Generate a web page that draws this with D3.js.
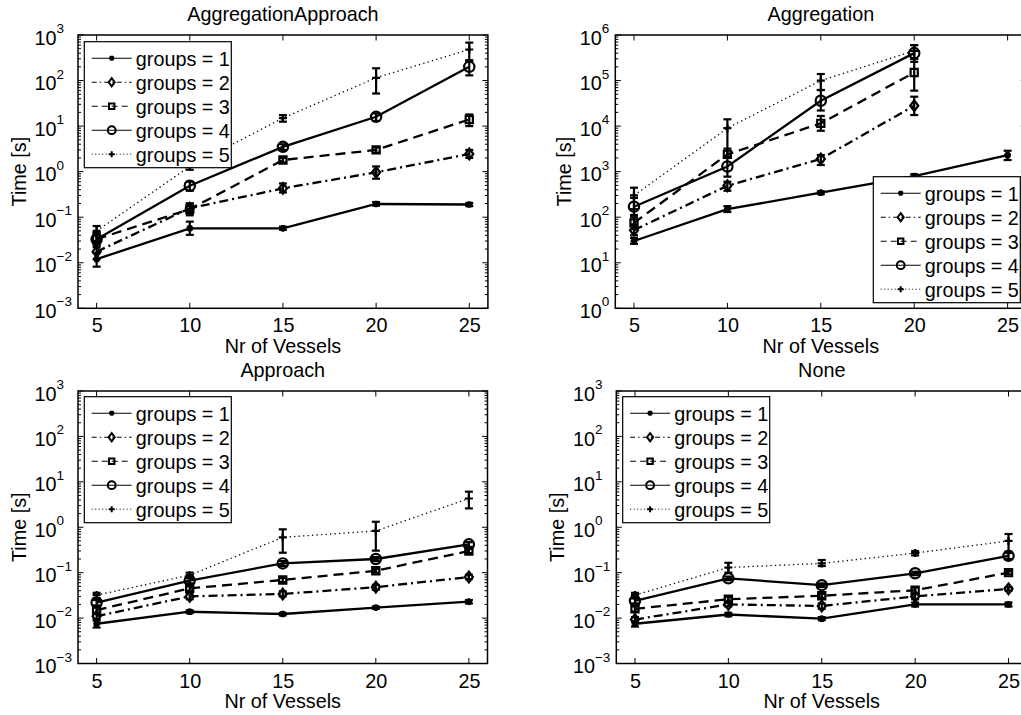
<!DOCTYPE html>
<html><head><meta charset="utf-8">
<script src="https://cdn.jsdelivr.net/npm/d3@7"></script>
<style>
html,body{margin:0;padding:0;background:#fff;}
svg{display:block;font-family:"Liberation Sans",Arial,Helvetica,sans-serif;}
</style></head>
<body>
<svg id="chart" width="1021" height="715"></svg>
<script>
// ---------------- data ----------------
const xValues = [5, 10, 15, 20, 25];
const xTicks = [5, 10, 15, 20, 25];
const seriesNames = ["groups = 1", "groups = 2", "groups = 3", "groups = 4", "groups = 5"];
const panelTitles = ["AggregationApproach", "Aggregation", "Approach", "None"];
const xLabel = "Nr of Vessels";
const yLabel = "Time [s]";

// AggregationApproach
const aaMean = [
  [0.012, 0.057, 0.057, 0.195, 0.19],
  [0.0175, 0.157, 0.43, 0.97, 2.44],
  [0.033, 0.15, 1.8, 3.0, 14],
  [0.033, 0.49, 3.5, 16, 200],
  [0.05, 1.3, 15, 115, 480]
];
const aaLow = [
  [0.0082, 0.041, 0.053, 0.18, 0.175],
  [0.012, 0.12, 0.35, 0.7, 2.0],
  [0.025, 0.11, 1.6, 2.6, 10],
  [0.022, 0.38, 3.0, 13, 130],
  [0.03, 1.1, 12.5, 52, 280]
];
const aaHigh = [
  [0.0164, 0.08, 0.062, 0.215, 0.205],
  [0.025, 0.2, 0.55, 1.3, 3.0],
  [0.045, 0.2, 2.0, 3.4, 18],
  [0.045, 0.6, 4.0, 19, 270],
  [0.064, 1.5, 17.4, 186, 680]
];
// Aggregation
const agMean = [
  [30, 150, 345, 800, 2300],
  [52, 490, 1900, 28000, null],
  [75, 2400, 11500, 150000, null],
  [170, 1300, 36000, 400000, null],
  [300, 9000, 100000, 450000, null]
];
const agLow = [
  [26, 130, 320, 720, 1800],
  [40, 380, 1400, 17500, null],
  [55, 2000, 7900, 60000, null],
  [112, 777, 22000, 258000, null],
  [150, 2130, 62000, 300000, null]
];
const agHigh = [
  [35, 175, 370, 880, 2880],
  [70, 600, 2320, 44200, null],
  [100, 3200, 16700, 300000, null],
  [265, 2130, 62000, 600000, null],
  [444, 14100, 139000, 600000, null]
];
// Approach
const apMean = [
  [0.0075, 0.0138, 0.0123, 0.017, 0.023],
  [0.011, 0.03, 0.034, 0.048, 0.08],
  [0.015, 0.045, 0.069, 0.11, 0.3],
  [0.022, 0.067, 0.16, 0.2, 0.42],
  [0.032, 0.088, 0.6, 0.83, 4.3]
];
const apLow = [
  [0.0062, 0.0128, 0.0115, 0.016, 0.021],
  [0.0095, 0.026, 0.03, 0.042, 0.072],
  [0.013, 0.04, 0.062, 0.1, 0.27],
  [0.019, 0.058, 0.14, 0.18, 0.37],
  [0.027, 0.075, 0.275, 0.305, 2.6]
];
const apHigh = [
  [0.0088, 0.0148, 0.013, 0.018, 0.025],
  [0.0125, 0.035, 0.039, 0.054, 0.09],
  [0.017, 0.05, 0.076, 0.12, 0.34],
  [0.025, 0.078, 0.18, 0.22, 0.47],
  [0.036, 0.1, 0.9, 1.32, 6.07]
];
// None
const noMean = [
  [0.0075, 0.012, 0.0097, 0.02, 0.02],
  [0.0093, 0.02, 0.0185, 0.03, 0.044],
  [0.016, 0.026, 0.031, 0.041, 0.1],
  [0.024, 0.075, 0.053, 0.097, 0.235],
  [0.032, 0.13, 0.16, 0.27, 0.5]
];
const noLow = [
  [0.0065, 0.011, 0.009, 0.018, 0.018],
  [0.0082, 0.018, 0.016, 0.026, 0.04],
  [0.014, 0.023, 0.028, 0.035, 0.092],
  [0.021, 0.068, 0.048, 0.088, 0.2],
  [0.028, 0.1, 0.14, 0.24, 0.29]
];
const noHigh = [
  [0.0085, 0.013, 0.0105, 0.022, 0.022],
  [0.0105, 0.022, 0.021, 0.034, 0.048],
  [0.018, 0.029, 0.034, 0.047, 0.108],
  [0.027, 0.082, 0.058, 0.105, 0.27],
  [0.036, 0.165, 0.19, 0.3, 0.71]
];
const yExponentsA = [-3, -2, -1, 0, 1, 2, 3];
const yExponentsB = [0, 1, 2, 3, 4, 5, 6];

// ---------------- layout / styles ----------------
const panels = [
  {title: panelTitles[0], mean: aaMean, low: aaLow, high: aaHigh, exps: yExponentsA,
   left: 78, top: 35, right: 487.9, bottom: 308.3, legend: {x: 84.3, y: 41.7}},
  {title: panelTitles[1], mean: agMean, low: agLow, high: agHigh, exps: yExponentsB,
   left: 615.3, top: 35, right: 1026.3, bottom: 308.3, legend: {x: 873.3, y: 176.7}},
  {title: panelTitles[2], mean: apMean, low: apLow, high: apHigh, exps: yExponentsA,
   left: 78, top: 391, right: 487.5, bottom: 663.5, legend: {x: 84.3, y: 396.7}},
  {title: panelTitles[3], mean: noMean, low: noLow, high: noHigh, exps: yExponentsA,
   left: 616.3, top: 391, right: 1027.2, bottom: 663.5, legend: {x: 622.7, y: 396.7}}
];
const styles = [
  {dash: null, width: 2.3},
  {dash: "9,4,2,4", width: 2.3},
  {dash: "10,6", width: 2.3},
  {dash: null, width: 2.3},
  {dash: "1.3,3.2", width: 1.3}
];
const legendDash = [null, "5,3,1.5,3", "6,4", null, "1,2.5"];
const markerPaths = [
  "M-3,0H3M0,-3V3M-2.2,-2.2L2.2,2.2M-2.2,2.2L2.2,-2.2",
  "M0,-4.8L3.6,0L0,4.8L-3.6,0Z",
  "M-3.2,-3.2H3.2V3.2H-3.2Z",
  null,
  "M-3.6,0H3.6M0,-3.6V3.6"
];
const FS = 19.8, FSUP = 13.5;

const svg = d3.select("#chart");

function drawMarker(g, i, x, y, sw, scale) {
  if (i === 3) {
    g.append("circle").attr("cx", x).attr("cy", y).attr("r", 4.6 * scale)
      .attr("fill", "none").attr("stroke", "#000").attr("stroke-width", sw);
  } else {
    g.append("path").attr("d", markerPaths[i])
      .attr("transform", `translate(${x},${y}) scale(${scale})`)
      .attr("fill", "none").attr("stroke", "#000").attr("stroke-width", sw / scale);
  }
}

panels.forEach(p => {
  const x = d3.scaleLinear().domain([4, 26]).range([p.left, p.right]);
  const lo = Math.pow(10, p.exps[0]), hi = Math.pow(10, p.exps[p.exps.length - 1]);
  const y = d3.scaleLog().domain([lo, hi]).range([p.bottom, p.top]);
  const g = svg.append("g");

  g.append("rect").attr("x", p.left).attr("y", p.top)
    .attr("width", p.right - p.left).attr("height", p.bottom - p.top)
    .attr("fill", "#fff").attr("stroke", "none");

  // ticks
  const minors = [];
  for (let e = p.exps[0]; e < p.exps[p.exps.length - 1]; e++)
    for (let k = 2; k <= 9; k++) minors.push(k * Math.pow(10, e));
  const tg = g.append("g").attr("stroke", "#000").attr("stroke-width", 1);
  minors.forEach(v => {
    tg.append("line").attr("x1", p.left).attr("x2", p.left + 3).attr("y1", y(v)).attr("y2", y(v));
    tg.append("line").attr("x1", p.right).attr("x2", p.right - 3).attr("y1", y(v)).attr("y2", y(v));
  });
  p.exps.forEach(e => {
    const v = Math.pow(10, e);
    tg.append("line").attr("x1", p.left).attr("x2", p.left + 5.5).attr("y1", y(v)).attr("y2", y(v));
    tg.append("line").attr("x1", p.right).attr("x2", p.right - 5.5).attr("y1", y(v)).attr("y2", y(v));
  });
  xTicks.forEach(t => {
    tg.append("line").attr("x1", x(t)).attr("x2", x(t)).attr("y1", p.bottom).attr("y2", p.bottom - 5.5);
    tg.append("line").attr("x1", x(t)).attr("x2", x(t)).attr("y1", p.top).attr("y2", p.top + 5.5);
  });

  // x tick labels
  const xAxis = d3.axisBottom(x).tickValues(xTicks).tickSize(0).tickPadding(0).tickFormat(d3.format("d"));
  const xa = g.append("g").attr("transform", `translate(0,${p.bottom})`).call(xAxis);
  xa.select(".domain").remove();
  xa.selectAll("text").attr("y", 24).attr("dy", null).attr("font-size", FS)
    .attr("font-family", "Liberation Sans, Arial, sans-serif").attr("fill", "#000");

  // y tick labels
  const labG = g.append("g").attr("font-size", FS).attr("fill", "#000");
  const labs = p.exps.map(e => {
    const t = labG.append("text").attr("y", y(Math.pow(10, e)) + 9.5);
    t.append("tspan").text("10");
    t.append("tspan").attr("font-size", FSUP).attr("dy", -11.5).text(e < 0 ? "\u2212" + (-e) : String(e));
    return t;
  });
  let maxW = 0;
  labs.forEach(t => { maxW = Math.max(maxW, t.node().getComputedTextLength()); });
  const labelLeft = p.left - 6 - maxW;
  labs.forEach(t => t.attr("x", labelLeft));

  g.append("text").attr("transform", `translate(${labelLeft - 9},${(p.top + p.bottom) / 2}) rotate(-90)`)
    .attr("text-anchor", "middle").attr("font-size", FS).text(yLabel);
  g.append("text").attr("x", (p.left + p.right) / 2).attr("y", p.bottom + 44.5)
    .attr("text-anchor", "middle").attr("font-size", FS).text(xLabel);
  g.append("text").attr("x", (p.left + p.right) / 2).attr("y", p.top - 14.5)
    .attr("text-anchor", "middle").attr("font-size", FS).text(p.title);

  // data
  const dg = g.append("g");
  p.mean.forEach((vals, i) => {
    const pts = xValues.map((xv, j) => ({x: xv, v: vals[j], lo: p.low[i][j], hi: p.high[i][j]}));
    const line = d3.line().defined(d => d.v != null).x(d => x(d.x)).y(d => y(d.v));
    const sg = dg.append("g");
    sg.append("path").attr("d", line(pts)).attr("fill", "none").attr("stroke", "#000")
      .attr("stroke-width", styles[i].width)
      .attr("stroke-dasharray", styles[i].dash);
    pts.filter(d => d.v != null).forEach(d => {
      const cx = x(d.x);
      sg.append("line").attr("x1", cx).attr("x2", cx).attr("y1", y(d.lo)).attr("y2", y(d.hi))
        .attr("stroke", "#000").attr("stroke-width", 2.2);
      [d.lo, d.hi].forEach(b => sg.append("line").attr("x1", cx - 4).attr("x2", cx + 4)
        .attr("y1", y(b)).attr("y2", y(b)).attr("stroke", "#000").attr("stroke-width", 2.2));
      drawMarker(sg, i, cx, y(d.v), 2.2, 1.12);
    });
  });

  g.append("rect").attr("x", p.left).attr("y", p.top)
    .attr("width", p.right - p.left).attr("height", p.bottom - p.top)
    .attr("fill", "none").attr("stroke", "#000").attr("stroke-width", 1.5);

  // legend
  const L = p.legend;
  const lg = g.append("g");
  lg.append("rect").attr("x", L.x).attr("y", L.y).attr("width", 147).attr("height", 126)
    .attr("fill", "#fff").attr("stroke", "#000").attr("stroke-width", 1.2);
  seriesNames.forEach((name, i) => {
    const cy = L.y + 16.5 + i * 24;
    lg.append("line").attr("x1", L.x + 7.4).attr("x2", L.x + 47.4).attr("y1", cy).attr("y2", cy)
      .attr("stroke", "#000").attr("stroke-width", i === 4 ? 1 : 1.1)
      .attr("stroke-dasharray", legendDash[i]);
    drawMarker(lg, i, L.x + 27.4, cy, 2, 0.85);
    lg.append("text").attr("x", L.x + 51.5).attr("y", cy + 7.3).attr("font-size", FS).text(name);
  });
});
</script>
</body></html>
